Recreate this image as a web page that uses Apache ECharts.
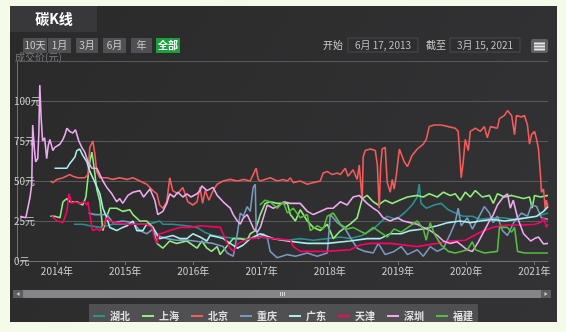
<!DOCTYPE html>
<html>
<head>
<meta charset="utf-8">
<title>碳K线</title>
<script src="https://cdn.jsdelivr.net/npm/echarts@6/dist/echarts.min.js"></script>
<style>
  html, body { margin: 0; padding: 0; background: #f4fbe9; }
  #c { width: 566px; height: 332px; }
</style>
</head>
<body>
<div id="c"></div>
<script>
// Regional carbon market closing prices (元/吨)
const regions = ['湖北', '上海', '北京', '重庆', '广东', '天津', '深圳', '福建'];
const regionColors = ['#2b908f', '#90ee7e', '#f45b5b', '#7798bf', '#aaeeee', '#ff0066', '#eeaaee', '#55bf3b'];
const rangeButtons = ['10天', '1月', '3月', '6月', '年', '全部'];
const startDate = '2013-06-17';
const endDate = '2021-03-15';
const startLabel = '6月 17, 2013';
const endLabel = '3月 15, 2021';
const yTicks = [0, 25, 50, 75, 100, 125];

const hubei = [['2014-04-02',23],['2014-05-19',23],['2014-06-26',22],['2014-08-19',21],['2014-09-25',22],['2014-10-27',23],['2014-12-19',23],['2015-02-12',23],['2015-04-27',23],['2015-06-09',24],['2015-07-05',25],['2015-07-22',23],['2015-09-13',23],['2015-11-28',22],['2016-01-21',21],['2016-03-01',18],['2016-04-16',16],['2016-06-09',15],['2016-08-24',14],['2016-10-16',14],['2016-12-25',15],['2017-03-04',14],['2017-05-19',13],['2017-07-27',14],['2017-10-05',13],['2017-12-19',14],['2018-02-27',15],['2018-04-20',14],['2018-06-24',16],['2018-08-22',20],['2018-09-28',24],['2018-11-05',28],['2018-12-23',26],['2019-02-04',30],['2019-03-18',35],['2019-04-15',40],['2019-04-25',48],['2019-05-05',36],['2019-06-02',33],['2019-07-15',35],['2019-08-21',36],['2019-09-28',32],['2019-11-04',30],['2019-12-17',28],['2020-02-04',28],['2020-03-17',26],['2020-05-21',27],['2020-07-14',27],['2020-09-17',26],['2020-11-09',27],['2021-01-13',28],['2021-03-15',30]];

const shanghai = [['2013-11-26',28],['2013-12-20',28],['2014-01-17',27],['2014-02-02',37],['2014-02-23',39],['2014-03-11',37],['2014-04-17',37],['2014-05-19',35],['2014-06-05',40],['2014-06-16',52],['2014-06-26',62],['2014-07-07',68],['2014-07-17',60],['2014-08-02',45],['2014-08-19',37],['2014-09-04',19],['2014-09-25',28],['2014-10-11',33],['2014-11-17',33],['2014-12-19',31],['2015-01-26',32],['2015-02-12',29],['2015-03-21',25],['2015-04-27',25],['2015-05-30',21],['2015-06-20',11],['2015-07-22',8],['2015-08-28',12.5],['2015-10-04',11],['2015-11-28',12.5],['2016-01-21',8],['2016-02-16',12.5],['2016-03-14',8],['2016-04-08',6],['2016-05-08',9],['2016-05-24',4],['2016-06-20',8],['2016-08-02',14],['2016-09-09',14],['2016-10-16',13],['2016-11-01',17],['2016-11-28',19],['2016-12-25',29],['2017-01-20',36],['2017-02-16',37],['2017-03-26',36],['2017-05-19',36],['2017-06-04',29],['2017-07-01',25],['2017-07-27',32],['2017-09-03',25],['2017-10-05',21],['2017-11-11',19],['2017-12-19',23],['2018-01-20',14],['2018-02-20',18],['2018-03-25',21],['2018-04-20',23],['2018-05-28',27],['2018-06-24',39],['2018-07-20',41],['2018-08-22',37],['2018-09-18',35],['2018-10-25',38],['2018-12-02',36],['2019-01-09',38],['2019-02-21',40],['2019-04-15',41],['2019-05-17',40],['2019-06-18',42],['2019-07-31',40],['2019-09-02',43],['2019-10-09',41],['2019-11-04',42],['2019-12-01',38],['2019-12-28',43],['2020-01-24',40],['2020-02-20',44],['2020-03-28',40],['2020-05-05',41],['2020-05-26',36],['2020-06-17',42],['2020-07-25',40],['2020-09-01',41],['2020-10-03',40],['2020-11-04',39],['2020-12-06',40],['2020-12-20',33],['2021-01-02',41],['2021-02-03',40],['2021-03-15',41]];

const beijing = [['2013-11-28',50],['2013-12-10',49],['2014-01-01',51],['2014-02-02',52],['2014-02-20',53],['2014-03-11',54],['2014-03-27',53],['2014-04-22',52],['2014-05-30',52],['2014-06-16',54],['2014-06-26',71],['2014-07-12',75],['2014-07-23',67],['2014-08-02',56],['2014-08-19',52],['2014-09-25',52],['2014-10-27',51],['2014-12-03',52],['2015-01-11',51],['2015-02-12',52],['2015-03-21',50],['2015-04-27',48],['2015-05-30',44],['2015-06-20',42],['2015-07-05',35],['2015-07-22',33],['2015-08-12',37],['2015-08-28',52],['2015-09-13',44],['2015-10-10',42],['2015-11-06',46],['2015-12-03',37],['2015-12-30',35],['2016-01-21',37],['2016-02-06',46],['2016-02-20',36],['2016-03-05',44],['2016-03-25',38],['2016-04-16',44],['2016-05-08',48],['2016-06-09',50],['2016-07-17',51],['2016-08-24',50],['2016-09-25',51],['2016-11-01',50],['2016-11-17',54],['2016-12-03',58],['2016-12-14',51],['2016-12-25',50],['2017-02-16',52],['2017-03-26',50],['2017-04-27',51],['2017-05-19',50],['2017-06-04',52],['2017-06-20',49],['2017-07-27',50],['2017-09-03',48],['2017-10-05',49],['2017-11-11',50],['2017-11-27',55],['2017-12-19',56],['2018-01-14',54],['2018-02-11',55],['2018-02-27',54],['2018-03-25',58],['2018-04-09',53],['2018-05-06',57],['2018-05-28',51],['2018-06-08',60],['2018-06-18',46],['2018-06-24',38],['2018-06-29',65],['2018-07-10',69],['2018-08-07',70],['2018-09-02',69],['2018-09-13',60],['2018-09-23',33],['2018-10-01',60],['2018-10-09',70],['2018-10-25',71],['2018-11-05',49],['2018-11-21',43],['2018-12-02',51],['2018-12-12',45],['2018-12-23',53],['2019-01-09',70],['2019-01-19',71],['2019-02-04',62],['2019-02-21',59],['2019-03-18',66],['2019-04-15',70],['2019-05-17',73],['2019-06-02',76],['2019-06-18',84],['2019-07-15',85],['2019-08-21',85],['2019-09-28',84],['2019-11-04',83],['2019-11-20',81],['2019-12-01',62],['2019-12-06',52],['2019-12-17',62],['2019-12-28',76],['2020-01-13',69],['2020-01-24',81],['2020-02-20',83],['2020-03-17',81],['2020-04-08',84],['2020-04-24',77],['2020-05-11',84],['2020-06-17',83],['2020-06-28',89],['2020-07-25',91],['2020-08-10',94],['2020-09-01',91],['2020-09-17',79],['2020-09-27',91],['2020-10-24',90],['2020-11-09',91],['2020-11-25',85],['2020-12-06',73],['2020-12-17',79],['2021-01-02',81],['2021-01-13',76],['2021-01-23',70],['2021-02-03',53],['2021-02-08',43],['2021-02-19',45],['2021-03-01',32],['2021-03-06',38],['2021-03-15',34]];

const chongqing = [['2014-06-19',30],['2014-07-23',29],['2014-09-25',29],['2014-10-27',24],['2014-12-19',25],['2015-02-12',24],['2015-03-21',19],['2015-04-27',17],['2015-05-30',20],['2015-06-20',16],['2015-08-12',14],['2015-10-04',13],['2015-12-03',13],['2016-02-06',12],['2016-04-16',11],['2016-06-09',9],['2016-07-01',5],['2016-08-02',3],['2016-08-24',17],['2016-09-09',30],['2016-09-25',28],['2016-10-16',34],['2016-11-01',31],['2016-11-17',46],['2016-11-28',48],['2016-12-03',20],['2016-12-14',14],['2017-01-10',17],['2017-01-31',15],['2017-02-16',6],['2017-03-26',2],['2017-05-19',4],['2017-07-01',3],['2017-09-03',5],['2017-10-26',3],['2017-12-19',5],['2018-01-04',29],['2018-02-11',24],['2018-03-25',20],['2018-04-20',15],['2018-05-28',8],['2018-07-10',6],['2018-08-22',5],['2018-09-18',11],['2018-10-25',4],['2018-12-12',6],['2019-01-19',9],['2019-02-21',4],['2019-04-15',7],['2019-05-17',3],['2019-06-23',9],['2019-07-31',6],['2019-09-02',8],['2019-10-09',17],['2019-11-04',24],['2019-11-20',33],['2019-12-06',22],['2020-01-08',27],['2020-02-04',20],['2020-03-07',27],['2020-04-08',34],['2020-05-05',30],['2020-05-26',24],['2020-06-17',28],['2020-07-14',19],['2020-08-10',16],['2020-09-17',25],['2020-10-24',30],['2020-11-25',28],['2020-12-17',35],['2021-01-13',34],['2021-02-08',27],['2021-03-15',26]];

const guangdong = [['2013-12-19',58],['2014-01-17',58],['2014-02-23',58],['2014-03-11',61],['2014-04-07',65],['2014-04-17',69],['2014-05-03',70],['2014-05-19',66],['2014-06-10',62],['2014-06-26',56],['2014-07-12',52],['2014-08-19',42],['2014-09-04',33],['2014-09-25',27],['2014-10-11',21],['2014-11-17',19],['2014-12-19',21],['2015-01-11',22],['2015-02-12',25],['2015-03-05',19],['2015-04-06',19],['2015-04-27',23],['2015-05-30',21],['2015-06-20',17],['2015-07-05',14],['2015-08-12',15],['2015-09-13',16],['2015-10-21',14],['2015-11-28',14],['2015-12-30',17],['2016-02-06',15],['2016-03-14',12.5],['2016-03-31',16],['2016-05-08',15],['2016-06-09',14],['2016-07-17',11],['2016-08-24',8],['2016-09-25',10],['2016-11-01',14],['2016-12-25',17],['2017-03-04',14],['2017-05-19',12.5],['2017-09-03',11],['2017-12-19',11],['2018-04-20',12.5],['2018-07-20',14],['2018-09-28',14],['2018-11-21',17],['2019-01-19',17],['2019-03-08',19],['2019-05-17',20],['2019-07-31',22],['2019-09-28',24],['2019-12-01',25],['2020-01-24',24],['2020-03-17',25],['2020-05-21',26],['2020-07-25',25],['2020-09-27',26],['2020-11-25',27],['2021-01-13',28],['2021-02-19',31],['2021-03-15',34]];

const tianjin = [['2013-12-05',28],['2014-01-01',25],['2014-02-02',24],['2014-02-23',31],['2014-03-06',42],['2014-03-22',36],['2014-04-07',37],['2014-05-03',36],['2014-05-30',37],['2014-06-10',35],['2014-06-16',37],['2014-06-26',36],['2014-07-07',21],['2014-07-12',19],['2014-08-02',20],['2014-08-19',19],['2014-09-04',21],['2014-09-25',27],['2014-10-11',25],['2014-11-17',24],['2015-01-11',23],['2015-03-05',23],['2015-04-27',23],['2015-05-24',21],['2015-06-09',14],['2015-06-20',11],['2015-07-01',17],['2015-07-22',17.5],['2015-08-28',19],['2015-10-21',21],['2015-12-13',21],['2016-02-06',22],['2016-05-24',21],['2016-06-09',17],['2016-07-01',11],['2016-07-17',8],['2016-08-02',6],['2016-08-29',11],['2016-09-25',12.5],['2016-11-01',14],['2017-01-10',15],['2017-03-04',14],['2017-06-04',13],['2017-06-20',9],['2017-07-27',6],['2017-12-19',6],['2018-04-20',7],['2018-06-13',10],['2018-08-07',11],['2018-11-21',11],['2019-04-15',9],['2019-07-31',11],['2019-10-09',12.5],['2019-12-28',13],['2020-03-17',18],['2020-05-21',21],['2020-08-04',22.5],['2020-11-04',22.5],['2021-01-02',23],['2021-02-03',24],['2021-02-19',27],['2021-03-06',21],['2021-03-15',23]];

const shenzhen = [['2013-06-18',28],['2013-07-18',27],['2013-08-10',40],['2013-08-19',48],['2013-08-24',85],['2013-09-02',70],['2013-09-09',62],['2013-09-20',64],['2013-09-26',80],['2013-10-01',110],['2013-10-08',90],['2013-10-16',75],['2013-10-27',77],['2013-11-07',64],['2013-11-15',72],['2013-11-24',76],['2013-12-10',69],['2013-12-20',71],['2014-01-17',73],['2014-02-02',76],['2014-02-13',79],['2014-02-23',83],['2014-03-10',81],['2014-03-27',80],['2014-04-10',82],['2014-04-17',81],['2014-04-28',75],['2014-05-14',71],['2014-05-30',68],['2014-06-16',62],['2014-07-07',58],['2014-08-02',58],['2014-08-19',54],['2014-09-04',50],['2014-09-25',46],['2014-10-22',42],['2014-11-17',37],['2014-12-03',39],['2014-12-19',36],['2015-01-16',41],['2015-02-12',43],['2015-03-21',44],['2015-04-10',40],['2015-05-14',45],['2015-06-09',38],['2015-06-25',29],['2015-07-22',31],['2015-08-12',36],['2015-08-28',42],['2015-09-20',40],['2015-10-10',43],['2015-11-06',40],['2015-11-28',42],['2015-12-20',40],['2016-01-21',42],['2016-02-06',44],['2016-02-16',47],['2016-03-14',44],['2016-04-16',46],['2016-05-08',41],['2016-06-09',37],['2016-07-17',33],['2016-08-02',29],['2016-08-24',25],['2016-09-09',23],['2016-09-25',27],['2016-10-16',29],['2016-11-01',25],['2016-11-20',20],['2016-12-09',18],['2016-12-25',21],['2017-01-31',35],['2017-03-04',33],['2017-03-26',34],['2017-05-01',37],['2017-06-04',36],['2017-07-27',36],['2017-09-03',31],['2017-10-05',29],['2017-11-11',31],['2017-12-19',33],['2018-01-20',33],['2018-02-27',37],['2018-04-04',35],['2018-05-06',40],['2018-06-08',41],['2018-07-20',36],['2018-08-22',33],['2018-09-18',31],['2018-10-14',27],['2018-11-21',25],['2018-12-29',27],['2019-01-30',25],['2019-03-08',24],['2019-04-15',23],['2019-05-17',21],['2019-06-23',19],['2019-07-31',16],['2019-09-02',12.5],['2019-10-09',11],['2019-11-15',12],['2019-12-17',9],['2020-01-08',7],['2020-02-04',6],['2020-03-07',12],['2020-04-08',19],['2020-05-05',25],['2020-05-26',29],['2020-06-17',35],['2020-07-19',40],['2020-08-10',42],['2020-08-25',33],['2020-09-10',38],['2020-10-03',27],['2020-11-04',17],['2020-12-12',12.5],['2021-01-02',14],['2021-01-23',15],['2021-02-19',10.6],['2021-03-15',11]];

const fujian = [['2016-12-22',35],['2017-01-20',38],['2017-02-16',37],['2017-03-26',33],['2017-04-27',37],['2017-05-19',30],['2017-06-20',33],['2017-07-27',27],['2017-09-03',29],['2017-09-19',19],['2017-10-26',22],['2017-11-27',20],['2017-12-19',28],['2018-01-20',30],['2018-02-27',23],['2018-04-04',20],['2018-05-06',21],['2018-06-08',19],['2018-07-10',17],['2018-08-22',21],['2018-09-28',18],['2018-11-05',15],['2018-12-12',20],['2019-01-19',18],['2019-03-08',22],['2019-04-15',25],['2019-05-17',20],['2019-06-02',13],['2019-06-23',24],['2019-07-15',17],['2019-08-21',10],['2019-09-28',6],['2019-11-04',5],['2019-12-06',6],['2020-01-08',7],['2020-02-04',12],['2020-02-20',7],['2020-04-08',5],['2020-06-17',6],['2020-06-28',21],['2020-08-10',21],['2020-09-01',18],['2020-09-17',21],['2020-10-03',6],['2020-11-09',5],['2021-01-02',5],['2021-03-15',5]];

const regionData = [hubei, shanghai, beijing, chongqing, guangdong, tianjin, shenzhen, fujian];

const FONT = '"Noto Sans CJK SC", "Noto Sans", sans-serif';
const YEAR = 365.25 * 24 * 3600 * 1000;

// ---- page furniture: panel, title tab, range selector, date inputs, scrollbar ----
const graphics = [];
graphics.push({
  type: 'rect', silent: true, z: -20,
  shape: { x: 10, y: 6, width: 547, height: 316 },
  style: { fill: new echarts.graphic.LinearGradient(0, 0, 1, 1, [
    { offset: 0, color: '#2a2a2b' }, { offset: 1, color: '#333335' }]) }
});
graphics.push({ type: 'rect', silent: true, z: -19, shape: { x: 10, y: 6, width: 87, height: 26 }, style: { fill: '#38383a' } });
graphics.push({ type: 'text', silent: true, x: 54, y: 19, style: { text: '碳K线', fill: '#ffffff', font: 'bold 14px ' + FONT, align: 'center', verticalAlign: 'middle' } });

const btnX = [23, 48, 76, 103, 131, 156];
const btnW = [24, 23, 22, 23, 21, 24];
rangeButtons.forEach((label, i) => {
  const active = i === rangeButtons.length - 1;
  graphics.push({ type: 'rect', silent: true, shape: { x: btnX[i], y: 38, width: btnW[i], height: 15 },
    style: { fill: active ? '#1b9e3e' : '#505053' } });
  graphics.push({ type: 'text', silent: true, x: btnX[i] + btnW[i] / 2, y: 45.5,
    style: { text: label, fill: active ? '#ffffff' : '#cccccc', font: (active ? 'bold ' : '') + '10px ' + FONT, align: 'center', verticalAlign: 'middle' } });
});

function dateBox(caption, capX, boxX, value) {
  graphics.push({ type: 'text', silent: true, x: capX, y: 45, style: { text: caption, fill: '#cccccc', font: '10px ' + FONT, align: 'left', verticalAlign: 'middle' } });
  graphics.push({ type: 'rect', silent: true, shape: { x: boxX, y: 38, width: 70, height: 14 }, style: { fill: '#2e2e30', stroke: '#4a4a4c', lineWidth: 1 } });
  graphics.push({ type: 'text', silent: true, x: boxX + 35, y: 45, style: { text: value, fill: '#c0c0c0', font: '10px ' + FONT, align: 'center', verticalAlign: 'middle' } });
}
dateBox('开始', 323, 348, startLabel);
dateBox('截至', 426, 450, endLabel);

// export menu icon
graphics.push({ type: 'rect', silent: true, shape: { x: 531, y: 39, width: 17, height: 14, r: 2 }, style: { fill: '#606063' } });
[42.5, 45.5, 48.5].forEach(y => graphics.push({ type: 'rect', silent: true, shape: { x: 534, y: y, width: 11, height: 2 }, style: { fill: '#e8e8e8' } }));

// axis title
graphics.push({ type: 'text', silent: true, x: 15, y: 57, style: { text: '成交价(元)', fill: '#7a7a7c', font: '10px ' + FONT, align: 'left', verticalAlign: 'middle' } });

// scrollbar
graphics.push({ type: 'rect', silent: true, shape: { x: 13, y: 290, width: 538, height: 8 }, style: { fill: '#404043' } });
graphics.push({ type: 'rect', silent: true, shape: { x: 23, y: 290, width: 518, height: 8 }, style: { fill: '#858588' } });
graphics.push({ type: 'rect', silent: true, shape: { x: 13, y: 290, width: 10, height: 8 }, style: { fill: '#5e5e61' } });
graphics.push({ type: 'rect', silent: true, shape: { x: 541, y: 290, width: 10, height: 8 }, style: { fill: '#5e5e61' } });
graphics.push({ type: 'polygon', silent: true, shape: { points: [[19.5, 292], [19.5, 296], [16.5, 294]] }, style: { fill: '#cccccc' } });
graphics.push({ type: 'polygon', silent: true, shape: { points: [[544.5, 292], [544.5, 296], [547.5, 294]] }, style: { fill: '#cccccc' } });
[280.5, 282.5, 284.5].forEach(x => graphics.push({ type: 'line', silent: true, shape: { x1: x, y1: 292, x2: x, y2: 296 }, style: { stroke: '#d8d8d8', lineWidth: 1 } }));

// legend plate
graphics.push({ type: 'rect', silent: true, z: -5, shape: { x: 89, y: 304, width: 389, height: 18 }, style: { fill: '#505053' } });

const chart = echarts.init(document.getElementById('c'), null, { renderer: 'canvas' });
chart.setOption({
  animation: false,
  backgroundColor: 'transparent',
  textStyle: { fontFamily: FONT },
  graphic: graphics,
  grid: { left: 20, right: 18, top: 61, bottom: 71, containLabel: false },
  legend: {
    data: regions,
    left: 'center',
    top: 306,
    icon: 'rect',
    itemWidth: 12,
    itemHeight: 2,
    itemGap: 12,
    textStyle: { color: '#e0e0e3', fontSize: 10, fontWeight: 'bold' }
  },
  xAxis: {
    type: 'time',
    min: startDate,
    max: endDate,
    minInterval: YEAR,
    maxInterval: YEAR,
    axisLine: { show: true, lineStyle: { color: '#707073' } },
    axisTick: { show: true, length: 4, lineStyle: { color: '#707073' } },
    splitLine: { show: false },
    axisLabel: {
      color: '#d0d0d0', fontSize: 10, margin: 5,
      formatter: v => new Date(v).getFullYear() + '年'
    }
  },
  yAxis: {
    type: 'value',
    min: yTicks[0],
    max: yTicks[yTicks.length - 1],
    interval: 25,
    offset: 3,
    axisLine: { show: true, lineStyle: { color: '#707073' } },
    axisTick: { show: false },
    splitLine: { lineStyle: { color: '#59595c' } },
    axisLabel: {
      inside: true, margin: -3, showMaxLabel: false,
      color: '#d0d0d0', fontSize: 10, verticalAlign: 'middle',
      padding: [0, 0, 6, 0],
      formatter: '{value}元'
    }
  },
  series: regions.map((name, i) => ({
    name: name,
    type: 'line',
    data: regionData[i],
    showSymbol: false,
    symbol: 'none',
    color: regionColors[i],
    lineStyle: { width: 1.6, color: regionColors[i] }
  }))
});
</script>
</body>
</html>
